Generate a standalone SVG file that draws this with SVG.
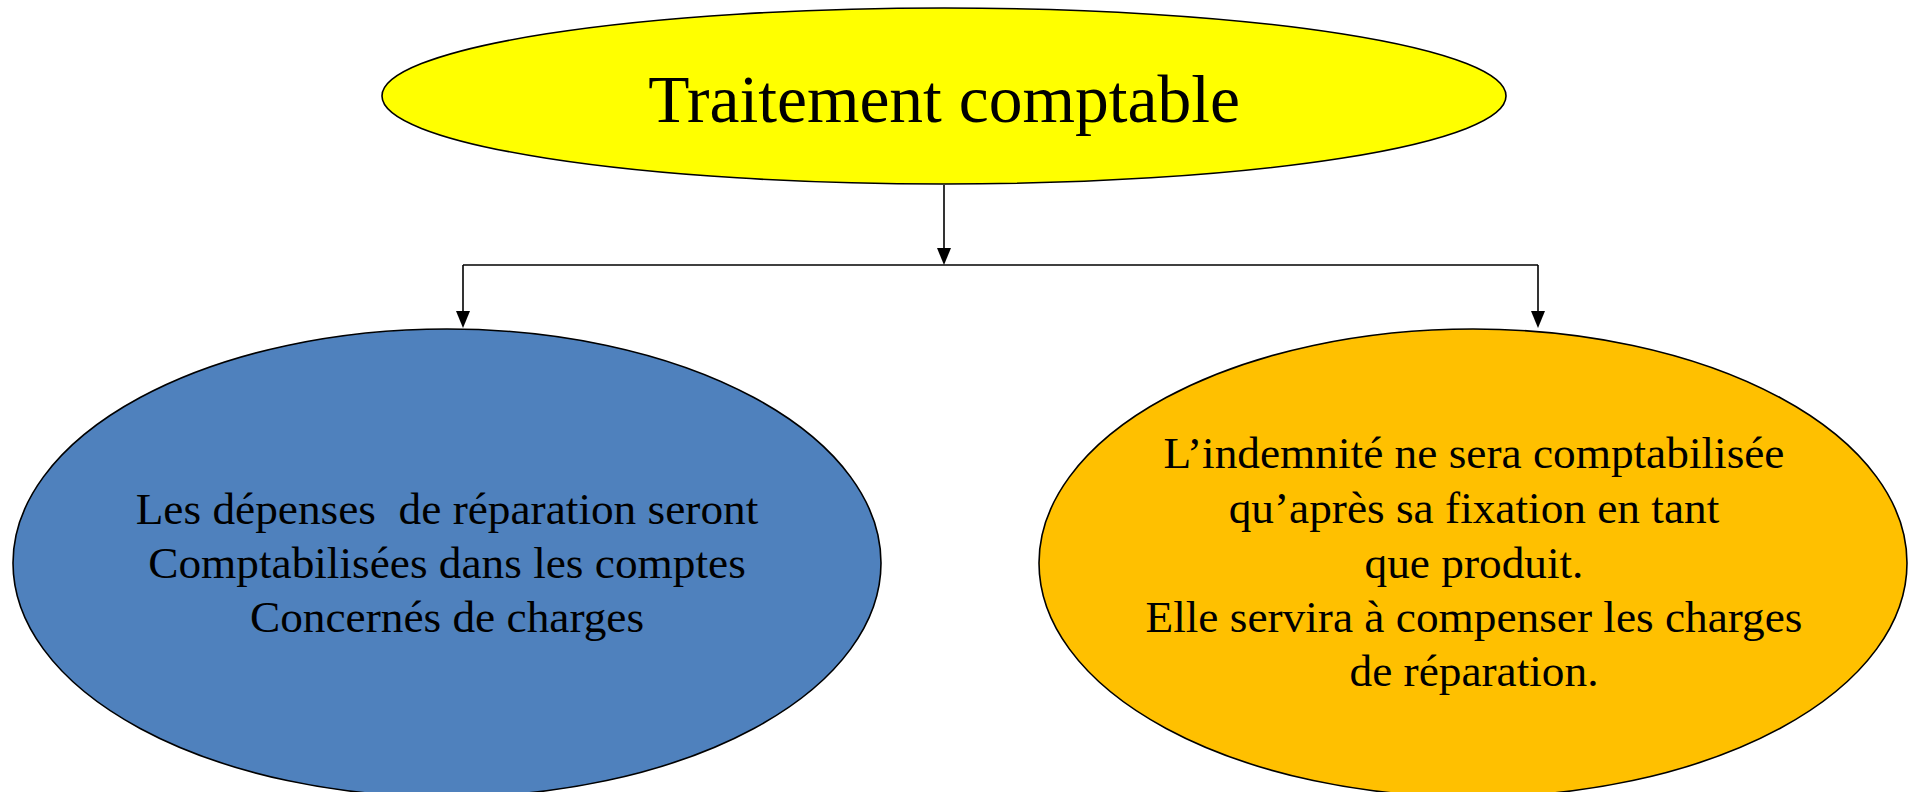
<svg xmlns="http://www.w3.org/2000/svg" width="1910" height="792" viewBox="0 0 1910 792">
<style>
.node{stroke:#000;stroke-width:1.6}
.t{font-family:"Liberation Serif","Times New Roman",serif;fill:#000;text-anchor:middle}
.big{font-size:67.5px}
.body{font-size:45.3px}
.conn{stroke:#000;stroke-width:1.6;fill:none}
.head{fill:#000}
</style>
<rect width="1910" height="792" fill="#fff"/>
<g id="connectors">
<path class="conn" d="M944,185 V248"/>
<path class="head" d="M937,248 L951,248 L944,265 Z"/>
<path class="conn" d="M463,265 H1538"/>
<path class="conn" d="M463,265 V311"/>
<path class="head" d="M456,311 L470,311 L463,328 Z"/>
<path class="conn" d="M1538,265 V311"/>
<path class="head" d="M1531,311 L1545,311 L1538,328 Z"/>
</g>
<g id="node-top">
<ellipse class="node" cx="944" cy="96" rx="562" ry="88" fill="#FFFF00" stroke-width="2"/>
<text class="t big" x="944" y="122">Traitement comptable</text>
</g>
<g id="node-left">
<ellipse class="node" cx="447" cy="563" rx="434" ry="234" fill="#4F81BD"/>
<text class="t body" x="447" y="524" xml:space="preserve">Les dépenses  de réparation seront</text>
<text class="t body" x="447" y="578">Comptabilisées dans les comptes</text>
<text class="t body" x="447" y="632">Concernés de charges</text>
</g>
<g id="node-right">
<ellipse class="node" cx="1473" cy="563" rx="434" ry="234" fill="#FFC000"/>
<text class="t body" x="1474" y="468">L’indemnité ne sera comptabilisée</text>
<text class="t body" x="1474" y="523">qu’après sa fixation en tant</text>
<text class="t body" x="1474" y="578">que produit.</text>
<text class="t body" x="1474" y="632">Elle servira à compenser les charges</text>
<text class="t body" x="1474" y="686">de réparation.</text>
</g>
</svg>
